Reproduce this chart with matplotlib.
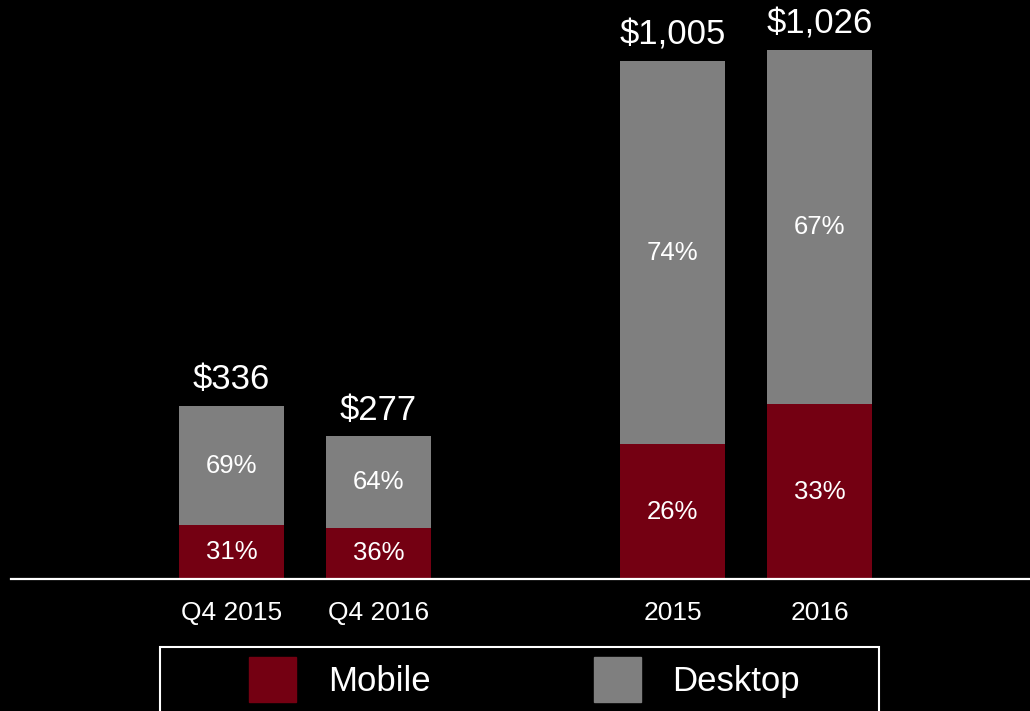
import numpy as np
import matplotlib
matplotlib.use("Agg")
import matplotlib.pyplot as plt
from matplotlib.patches import Patch, Rectangle

plt.rcParams["font.family"] = ["Liberation Sans", "DejaVu Sans"]

# data
periods = ["Q4 2015", "Q4 2016", "2015", "2016"]
positions = [0, 1, 3, 4]
totals = [336, 277, 1005, 1026]
total_labels = ["$336", "$277", "$1,005", "$1,026"]
mobile_pct = [31, 36, 26, 33]
desktop_pct = [69, 64, 74, 67]

MOBILE = "#740012"
DESKTOP = "#7f7f7f"

totals = np.array(totals, dtype=float)
mobile = totals * np.array(mobile_pct) / 100.0
desktop = totals - mobile

fig = plt.figure(figsize=(10.30, 7.11), dpi=100, facecolor="black")
ax = fig.add_axes([11 / 1030, (711 - 579) / 711, 1019 / 1030, 579 / 711])
ax.set_facecolor("black")

w = 0.714
ax.bar(positions, mobile, width=w, color=MOBILE, linewidth=0)
ax.bar(positions, desktop, width=w, bottom=mobile, color=DESKTOP, linewidth=0)

for x, m, d, t, tl, mp, dp in zip(positions, mobile, desktop, totals, total_labels, mobile_pct, desktop_pct):
    ax.text(x, m / 2, f"{mp}%", ha="center", va="center", color="white", fontsize=18.5)
    ax.text(x, m + d / 2, f"{dp}%", ha="center", va="center", color="white", fontsize=18.5)
    ax.annotate(tl, (x, t), xytext=(0, 12), textcoords="offset points",
                ha="center", va="baseline", color="white", fontsize=25)

ax.set_xlim(-1.5, 5.43)
ax.set_ylim(0, 1123)
ax.set_xticks(positions)
ax.set_xticklabels(periods, color="white", fontsize=19)
ax.tick_params(axis="x", length=0, pad=16)
ax.set_yticks([])
for s in ["top", "left", "right"]:
    ax.spines[s].set_visible(False)
ax.spines["bottom"].set_color("white")
ax.spines["bottom"].set_linewidth(1.6)

# legend frame
fig.patches.append(Rectangle((160 / 1030, -0.05), 719 / 1030, 0.05 + (711 - 647) / 711,
                             transform=fig.transFigure, fill=False, edgecolor="white",
                             linewidth=1.5))
handles = [Patch(color=MOBILE, label="Mobile"), Patch(color=DESKTOP, label="Desktop")]
fig.legend(handles=handles, loc="upper left", bbox_to_anchor=(249 / 1030, (711 - 657) / 711),
           ncol=2, frameon=False, fontsize=25, labelcolor="white",
           handlelength=1.35, handleheight=1.63, handletextpad=0.92,
           columnspacing=4.7, borderpad=0, borderaxespad=0)

fig.savefig("out.png", dpi=100, facecolor="black")
